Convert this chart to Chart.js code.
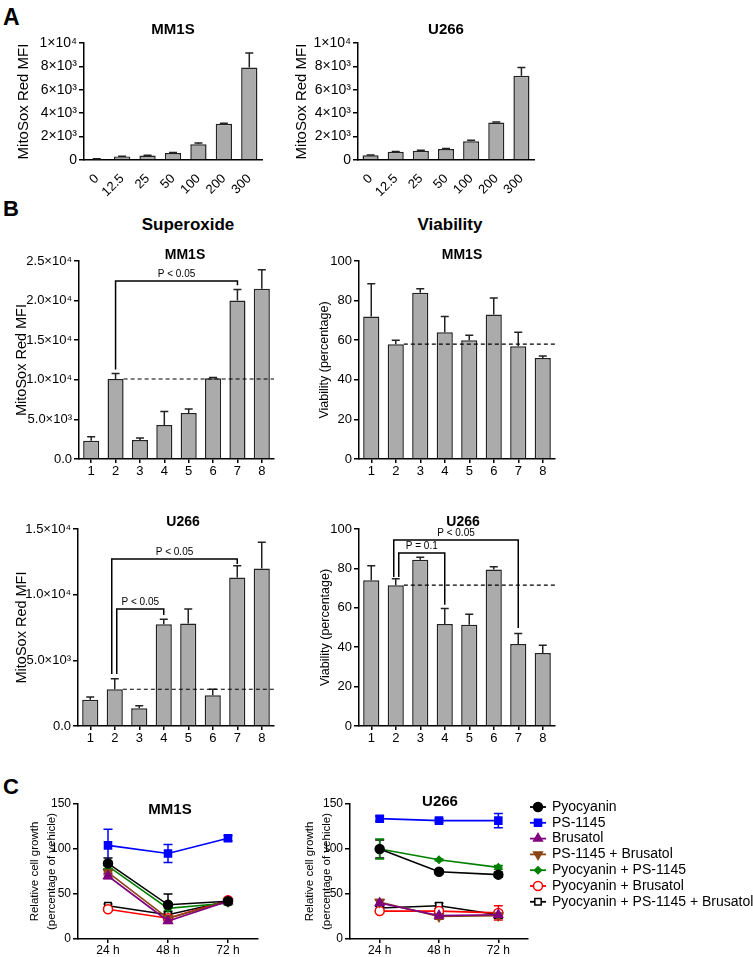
<!DOCTYPE html>
<html>
<head>
<meta charset="utf-8">
<script src="https://cdn.jsdelivr.net/npm/chart.js@4.4.1/dist/chart.umd.min.js"></script>
<style>
  body { margin: 0; background: #fff; width: 753px; height: 957px; position: relative; overflow: hidden;
         font-family: "Liberation Sans", Arial, sans-serif; }
  canvas { position: absolute; }
  .lbl { position: absolute; font-weight: bold; color: #000; white-space: nowrap; line-height: 1; }
  .hdr { position: absolute; font-weight: bold; color: #000; white-space: nowrap; line-height: 1;
         font-size: 17px; transform: translate(-50%, -50%); }
</style>
</head>
<body>
<div class="lbl" style="left:3px;top:6px;font-size:23px">A</div>
<div class="lbl" style="left:3px;top:198px;font-size:22px">B</div>
<div class="lbl" style="left:3px;top:776px;font-size:22px">C</div>
<div class="hdr" style="left:188px;top:224px">Superoxide</div>
<div class="hdr" style="left:450px;top:224px">Viability</div>

<script>
// ---- panel A: MitoSox vs pyocyanin dose ----
const doses = ["0", "12.5", "25", "50", "100", "200", "300"];
const aMm1s = [80, 300, 380, 600, 1350, 3100, 7900];
const aMm1sErr = [20, 30, 30, 40, 100, 40, 1250];
const aU266 = [400, 700, 800, 950, 1600, 3200, 7200];
const aU266Err = [20, 30, 40, 40, 80, 40, 700];
const aTicks = [0, 2000, 4000, 6000, 8000, 10000];
const aTickLabels = ["0", "2×10³", "4×10³", "6×10³", "8×10³", "1×10⁴"];

// ---- panel B: superoxide and viability per group ----
const groups = ["1", "2", "3", "4", "5", "6", "7", "8"];
const supMm1s = [2300, 10100, 2400, 4300, 5800, 10200, 20000, 21500];
const supMm1sErr = [500, 700, 250, 1700, 500, 100, 1400, 2400];
const supU266 = [2000, 2800, 1350, 7750, 7800, 2350, 11300, 12000];
const supU266Err = [200, 800, 200, 380, 1100, 450, 900, 2000];
const viaMm1s = [72, 58, 84, 64, 60, 73, 57, 51];
const viaMm1sErr = [16.5, 2, 2, 8, 2.5, 8.3, 7, 1];
const viaU266 = [74, 71.5, 84.4, 51.8, 51.4, 79.4, 41.6, 37];
const viaU266Err = [7.4, 3.3, 1.2, 7.8, 5.3, 1.5, 5.4, 4];
const supMm1sTicks = [0, 5000, 10000, 15000, 20000, 25000];
const supMm1sTickLabels = ["0.0", "5.0×10³", "1.0×10⁴", "1.5×10⁴", "2.0×10⁴", "2.5×10⁴"];
const supU266Ticks = [0, 5000, 10000, 15000];
const supU266TickLabels = ["0.0", "5.0×10³", "1.0×10⁴", "1.5×10⁴"];
const viaTicks = [0, 20, 40, 60, 80, 100];

// ---- panel C: relative growth over time ----
const times = ["24 h", "48 h", "72 h"];
const treatments = ["Pyocyanin", "PS-1145", "Brusatol", "PS-1145 + Brusatol",
                    "Pyocyanin + PS-1145", "Pyocyanin + Brusatol", "Pyocyanin + PS-1145 + Brusatol"];
const growthMm1s = [[84, 38, 42], [104, 95, 112], [70, 20, 42], [74, 23, 42],
                    [81, 34, 40], [33, 23, 43], [37, 27, 42]];
const growthMm1sErr = [[6, 12, 2], [18, 10, 3], [3, 2, 2], [3, 2, 2], [3, 3, 2], [2, 3, 2], [2, 3, 2]];
const growthU266 = [[100, 74.8, 71.5], [133.7, 131.5, 131.5], [40, 26, 27], [41, 25, 26],
                    [100, 88, 79.6], [31, 31, 29], [34.4, 37, 27]];
const growthU266Err = [[10, 2, 3], [3, 2, 8], [3, 4, 3], [3, 3, 3], [11, 1, 2], [2, 6, 8], [2, 3, 4]];
const growthTicks = [0, 50, 100, 150];

const seriesStyle = [
  { color: "#000000", point: "circle", fill: "#000000", r: 4.5, rot: 0 },
  { color: "#0000ff", point: "rect", fill: "#0000ff", r: 5, rot: 0 },
  { color: "#800080", point: "triangle", fill: "#800080", r: 5, rot: 0 },
  { color: "#8b4513", point: "triangle", fill: "#8b4513", r: 5, rot: 180 },
  { color: "#008000", point: "rectRot", fill: "#008000", r: 3.5, rot: 0 },
  { color: "#ff0000", point: "circle", fill: "#ffffff", r: 4.5, rot: 0 },
  { color: "#000000", point: "rect", fill: "#ffffff", r: 4.5, rot: 0 }
];

Chart.defaults.font.family = "'Liberation Sans', Arial, sans-serif";
Chart.defaults.color = "#000";

// error bars, reference lines, brackets, titles, legend
const extras = {
  id: "extras",
  beforeDatasetsDraw(chart, args, o) {
    const ctx = chart.ctx, ys = chart.scales.y;
    ctx.save();
    chart.data.datasets.forEach((ds, di) => {
      if (!ds.err) return;
      const meta = chart.getDatasetMeta(di);
      ctx.strokeStyle = ds.errColor || ds.borderColor;
      ctx.lineWidth = 1.5;
      const cap = ds.cap || 4;
      meta.data.forEach((el, i) => {
        const v = ds.data[i], e = ds.err[i];
        const top = ys.getPixelForValue(v + e);
        const bot = ds.both ? ys.getPixelForValue(v - e) : el.y;
        ctx.beginPath();
        ctx.moveTo(el.x, top); ctx.lineTo(el.x, bot);
        ctx.moveTo(el.x - cap, top); ctx.lineTo(el.x + cap, top);
        if (ds.both) { ctx.moveTo(el.x - cap, bot); ctx.lineTo(el.x + cap, bot); }
        ctx.stroke();
      });
    });
    ctx.restore();
  },
  afterDatasetsDraw(chart, args, o) {
    const ctx = chart.ctx, ys = chart.scales.y, area = chart.chartArea;
    const org = o.origin;
    const bars = chart.getDatasetMeta(0).data;
    ctx.save();
    if (o.refIndex !== undefined) {
      const el = bars[o.refIndex];
      const y = ys.getPixelForValue(chart.data.datasets[0].data[o.refIndex]);
      ctx.setLineDash([4, 3]);
      ctx.lineWidth = 1.2;
      ctx.strokeStyle = "#000";
      ctx.beginPath();
      ctx.moveTo(el.x + el.width / 2, y); ctx.lineTo(area.right, y);
      ctx.stroke();
      ctx.setLineDash([]);
    }
    (o.brackets || []).forEach(b => {
      const x1 = bars[b.from].x + (b.dx1 || 0), x2 = bars[b.to].x + (b.dx2 || 0);
      const y = ys.getPixelForValue(b.y);
      ctx.strokeStyle = "#000";
      ctx.lineWidth = 1.5;
      ctx.beginPath();
      ctx.moveTo(x1, ys.getPixelForValue(b.end1));
      ctx.lineTo(x1, y); ctx.lineTo(x2, y);
      ctx.lineTo(x2, ys.getPixelForValue(b.end2));
      ctx.stroke();
      ctx.fillStyle = "#000";
      ctx.font = "10px 'Liberation Sans', Arial, sans-serif";
      ctx.textAlign = "center";
      ctx.textBaseline = "bottom";
      ctx.fillText(b.text, (x1 + x2) / 2, y - 1.5);
    });
    if (o.title) {
      ctx.fillStyle = "#000";
      ctx.font = "bold " + o.title.size + "px 'Liberation Sans', Arial, sans-serif";
      ctx.textAlign = "center";
      ctx.textBaseline = "middle";
      ctx.fillText(o.title.text, o.title.x - org.x, o.title.y - org.y);
    }
    if (o.legend) {
      const L = o.legend;
      chart.data.datasets.forEach((ds, i) => {
        const x = L.x - org.x, y = L.y + i * L.dy - org.y;
        ctx.strokeStyle = ds.borderColor;
        ctx.lineWidth = 1.8;
        ctx.beginPath();
        ctx.moveTo(x - 8, y); ctx.lineTo(x + 8, y);
        ctx.stroke();
        ctx.fillStyle = ds.pointBackgroundColor;
        ctx.lineWidth = 1.5;
        Chart.helpers.drawPoint(ctx, { pointStyle: ds.pointStyle, radius: ds.pointRadius,
          rotation: ds.pointRotation, borderWidth: 1.5 }, x, y);
        ctx.fillStyle = "#000";
        ctx.font = L.size + "px 'Liberation Sans', Arial, sans-serif";
        ctx.textAlign = "left";
        ctx.textBaseline = "middle";
        ctx.fillText(ds.label, L.tx - org.x, y);
      });
    }
    ctx.restore();
  }
};

function axisY(ticks, labels, max, title, titleSize, titleX, tickSize) {
  return {
    min: 0, max: max,
    afterBuildTicks: s => { s.ticks = ticks.map(v => ({ value: v })); },
    ticks: { font: { size: tickSize }, padding: 2,
             callback: (v, i) => labels ? labels[ticks.indexOf(v)] : String(v) },
    grid: { display: true, drawOnChartArea: false, color: "#000", tickLength: 5, lineWidth: 1.5 },
    border: { display: true, color: "#000", width: 1.5 },
    title: { display: true, text: title, font: { size: titleSize, lineHeight: 1.4 },
             padding: { top: titleX, bottom: 0 } }
  };
}

function mkChart(area, pad, config) {
  const cv = document.createElement("canvas");
  const left = area.x - pad.l, top = area.y - pad.t;
  const w = area.w + pad.l + pad.r, h = area.h + pad.t + pad.b;
  cv.width = w; cv.height = h;
  cv.style.left = left + "px"; cv.style.top = top + "px";
  cv.style.width = w + "px"; cv.style.height = h + "px";
  document.body.appendChild(cv);
  const opt = config.options;
  opt.responsive = false;
  opt.animation = false;
  opt.devicePixelRatio = 1;
  opt.layout = { padding: { top: pad.t, right: pad.r, left: 0, bottom: 0 } };
  opt.scales.x.afterFit = s => { s.height = pad.b; };
  opt.scales.y.afterFit = s => { s.width = pad.l; };
  opt.plugins = opt.plugins || {};
  opt.plugins.legend = { display: false };
  opt.plugins.tooltip = { enabled: false };
  opt.plugins.extras.origin = { x: left, y: top };
  config.plugins = [extras];
  return new Chart(cv, config);
}

function barSet(values, errs, pct) {
  return {
    data: values, err: errs, cap: 4,
    backgroundColor: "#ababab", borderColor: "#222", errColor: "#222",
    borderWidth: 1.5, barPercentage: pct, categoryPercentage: 1
  };
}

// offset to put the rotated y title centre at a given page x
function titlePad(pageX, canvasLeft, size) { return pageX - canvasLeft - size * 1.4 / 2; }

// ---- A ----
function doseChart(area, values, errs, name, titleX) {
  const pad = { l: 84, t: 43, r: 8, b: 40 };
  mkChart(area, pad, {
    type: "bar",
    data: { labels: doses, datasets: [barSet(values, errs, 0.64)] },
    options: {
      scales: {
        x: { offset: true, grid: { display: false }, border: { display: true, color: "#000", width: 1.5 },
             ticks: { font: { size: 13 }, minRotation: 45, maxRotation: 45, autoSkip: false, padding: 3 } },
        y: axisY(aTicks, aTickLabels, 10000, "MitoSox Red MFI", 15,
                 titlePad(titleX, area.x - pad.l, 15), 14)
      },
      plugins: { extras: { title: { text: name, x: area.x + area.w / 2, y: 30, size: 15 } } }
    }
  });
}
doseChart({ x: 84, y: 43, w: 178, h: 117 }, aMm1s, aMm1sErr, "MM1S", 24);
doseChart({ x: 358, y: 43, w: 176, h: 117 }, aU266, aU266Err, "U266", 302);

// ---- B ----
function groupChart(area, values, errs, yAxis, extra) {
  const pad = { l: area.x < 200 ? area.x : 82, t: 32, r: 8, b: 24 };
  const y = yAxis(area.x - pad.l);
  mkChart(area, pad, {
    type: "bar",
    data: { labels: groups, datasets: [barSet(values, errs, 0.66)] },
    options: {
      scales: {
        x: { offset: true,
             grid: { display: true, offset: false, drawOnChartArea: false, color: "#000", tickLength: 4, lineWidth: 1.5 },
             border: { display: true, color: "#000", width: 1.5 },
             ticks: { font: { size: 13 }, padding: 1, autoSkip: false, maxRotation: 0 } },
        y: y
      },
      plugins: { extras: extra }
    }
  });
}

groupChart({ x: 79, y: 261, w: 195, h: 198 }, supMm1s, supMm1sErr,
  left => axisY(supMm1sTicks, supMm1sTickLabels, 25000, "MitoSox Red MFI", 14.5, titlePad(22, left, 14.5), 13),
  { refIndex: 1, title: { text: "MM1S", x: 185, y: 255, size: 14 },
    brackets: [{ from: 1, to: 6, y: 22460, end1: 11300, end2: 21950, text: "P < 0.05" }] });

groupChart({ x: 359, y: 261, w: 196, h: 198 }, viaMm1s, viaMm1sErr,
  left => axisY(viaTicks, null, 100, "Viability (percentage)", 12.5, titlePad(325, left, 12.5), 13),
  { refIndex: 1, title: { text: "MM1S", x: 462, y: 255, size: 14 } });

groupChart({ x: 78, y: 529, w: 196, h: 197 }, supU266, supU266Err,
  left => axisY(supU266Ticks, supU266TickLabels, 15000, "MitoSox Red MFI", 14.5, titlePad(22, left, 14.5), 13),
  { refIndex: 1, title: { text: "U266", x: 183, y: 522, size: 14 },
    brackets: [
      { from: 1, to: 6, dx1: -3, y: 12715, end1: 3960, end2: 12340, text: "P < 0.05" },
      { from: 1, to: 3, dx1: 2, y: 8910, end1: 3960, end2: 8450, text: "P < 0.05" }
    ] });

groupChart({ x: 359, y: 529, w: 196, h: 197 }, viaU266, viaU266Err,
  left => axisY(viaTicks, null, 100, "Viability (percentage)", 12.5, titlePad(326, left, 12.5), 13),
  { refIndex: 1, title: { text: "U266", x: 463, y: 522, size: 14 },
    brackets: [
      { from: 1, to: 6, dx1: -2, y: 94.4, end1: 75.6, end2: 49.7, text: "P < 0.05" },
      { from: 1, to: 3, dx1: 3, y: 87.8, end1: 75.6, end2: 61.6, text: "P = 0.1" }
    ] });

// ---- C ----
function growthChart(area, pad, values, errs, name, titlePos, titleX, legend) {
  const datasets = treatments.map((t, i) => {
    const s = seriesStyle[i];
    return {
      label: t, data: values[i], err: errs[i], both: true, cap: 4.5,
      borderColor: s.color, backgroundColor: s.color, borderWidth: 1.6,
      pointStyle: s.point, pointRadius: s.r, pointRotation: s.rot,
      pointBackgroundColor: s.fill, pointBorderColor: s.color, pointBorderWidth: 1.5
    };
  });
  const y = axisY(growthTicks, null, 150, ["Relative cell growth", "(percentage of vehicle)"], 11.5,
                  titlePad(titleX, area.x - pad.l, 11.5), 12);
  y.title.font.lineHeight = 1.45;
  mkChart(area, pad, {
    type: "line",
    data: { labels: times, datasets: datasets },
    options: {
      scales: {
        x: { offset: true,
             grid: { display: true, offset: false, drawOnChartArea: false, color: "#000", tickLength: 4, lineWidth: 1.5 },
             border: { display: true, color: "#000", width: 1.5 },
             ticks: { font: { size: 12 }, padding: 0, maxRotation: 0 } },
        y: y
      },
      plugins: { extras: { title: { text: name, x: titlePos[0], y: titlePos[1], size: 15 }, legend: legend } }
    }
  });
}

growthChart({ x: 78, y: 804, w: 180, h: 135 }, { l: 78, t: 20, r: 10, b: 18 },
  growthMm1s, growthMm1sErr, "MM1S", [170, 810], 35, null);
growthChart({ x: 350, y: 804, w: 178, h: 135 }, { l: 70, t: 20, r: 225, b: 18 },
  growthU266, growthU266Err, "U266", [440, 802], 310,
  { x: 538, tx: 552, y: 807, dy: 15.8, size: 14 });
</script>
</body>
</html>
